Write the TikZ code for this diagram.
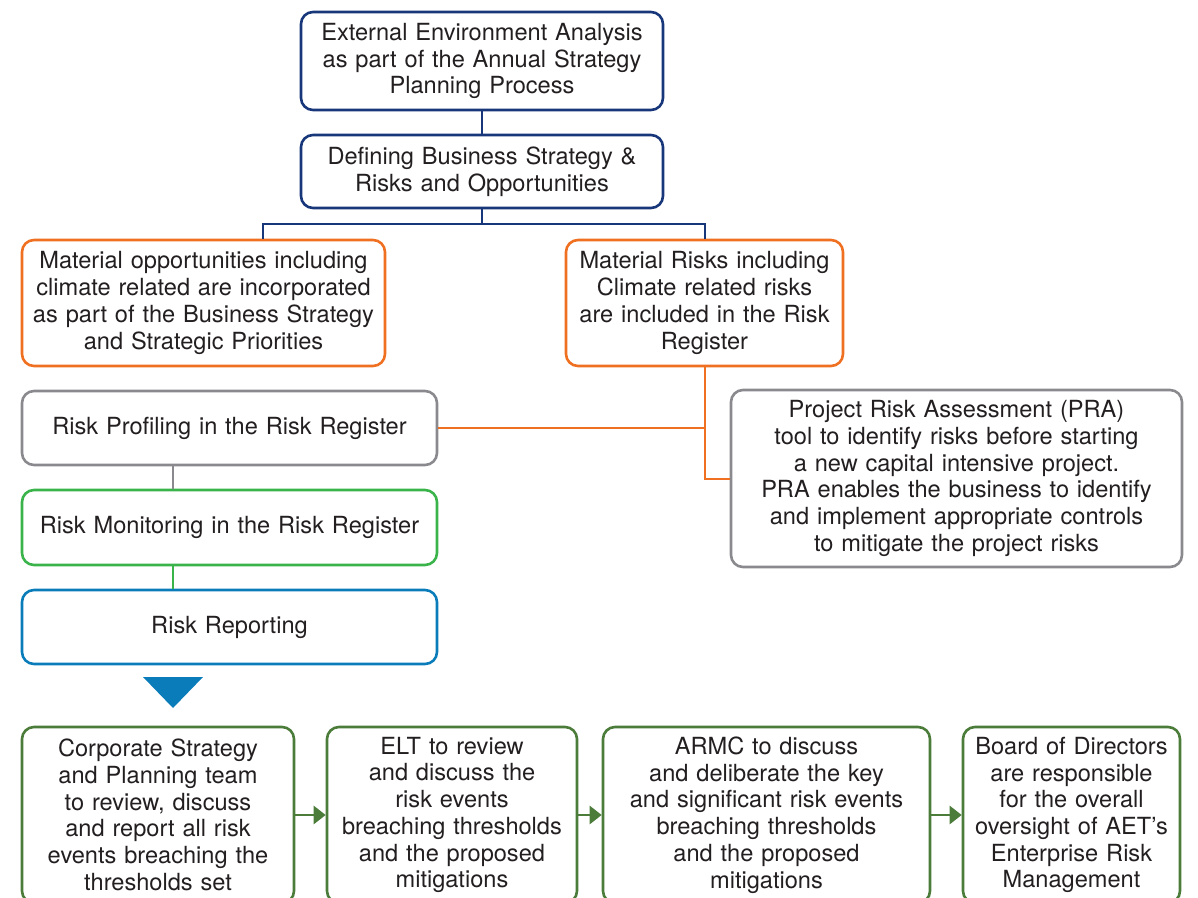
\documentclass[tikz,border=0pt]{standalone}
\usepackage{fontspec}
\setmainfont{TeX Gyre Heros}
\usetikzlibrary{arrows.meta}
\definecolor{navy}{RGB}{24,55,122}
\definecolor{orng}{RGB}{240,112,34}
\definecolor{gry}{RGB}{138,138,142}
\definecolor{lgreen}{RGB}{58,180,74}
\definecolor{rblue}{RGB}{10,124,186}
\definecolor{dgreen}{RGB}{75,124,58}
\definecolor{txt}{RGB}{35,31,32}
\tikzset{
  box/.style={draw=#1, line width=1.3pt, rounded corners=6pt, fill=white,
    align=center, inner sep=0pt, text=txt,
    font=\fontsize{11.8}{13.35}\selectfont},
  conn/.style={line width=1pt, draw=#1},
  garrow/.style={line width=1.3pt, draw=dgreen, -{Triangle[length=6pt,width=9pt,fill=dgreen]}}
}
\begin{document}
\begin{tikzpicture}[x=0.5pt,y=-0.5pt]
\useasboundingbox (0,0) rectangle (1198,898);
% top
\node[box=navy, minimum width=181pt, minimum height=49pt, text width=178pt] (ext) at (482,61)
  {External Environment Analysis\\as part of the Annual Strategy\\Planning Process};
\node[box=navy, minimum width=181pt, minimum height=36.5pt, text width=178pt] (def) at (482,171.5)
  {Defining Business Strategy \&\\Risks and Opportunities};
\node[box=orng, minimum width=181.5pt, minimum height=63pt, text width=180pt] (opp) at (203.5,303)
  {Material opportunities including\\climate related are incorporated\\as part of the Business Strategy\\and Strategic Priorities};
\node[box=orng, minimum width=138.5pt, minimum height=63pt, text width=137pt] (mrisk) at (704.5,303)
  {Material Risks including\\Climate related risks\\are included in the Risk\\Register};
\node[box=gry, minimum width=207.5pt, minimum height=37pt, text width=200pt] (prof) at (229.5,428)
  {Risk Profiling in the Risk Register};
\node[box=lgreen, minimum width=207.5pt, minimum height=37.5pt, text width=200pt] (mon) at (229.5,527.5)
  {Risk Monitoring in the Risk Register};
\node[box=rblue, minimum width=207.5pt, minimum height=37pt, text width=200pt] (rep) at (229.5,627)
  {Risk Reporting};
\node[box=gry, minimum width=225.5pt, minimum height=88.5pt, text width=222pt] (pra) at (956.5,478.5)
  {Project Risk Assessment (PRA)\\tool to identify risks before starting\\a new capital intensive project.\\PRA enables the business to identify\\and implement appropriate controls\\to mitigate the project risks};
% bottom row
\node[box=dgreen, minimum width=136pt, minimum height=88pt, text width=134pt] (ba) at (158,815)
  {Corporate Strategy\\and Planning team\\to review, discuss\\and report all risk\\events breaching the\\thresholds set};
\node[box=dgreen, minimum width=125pt, minimum height=88pt, text width=123pt] (bb) at (452,815)
  {ELT to review\\and discuss the\\risk events\\breaching thresholds\\and the proposed\\mitigations};
\node[box=dgreen, minimum width=163.5pt, minimum height=88pt, text width=161pt] (bc) at (766.5,815)
  {ARMC to discuss\\and deliberate the key\\and significant risk events\\breaching thresholds\\and the proposed\\mitigations};
\node[box=dgreen, minimum width=108.5pt, minimum height=88pt, text width=106pt] (bd) at (1071.5,815)
  {Board of Directors\\are responsible\\for the overall\\oversight of AET’s\\Enterprise Risk\\Management};
% connectors
\coordinate (fork) at (482,224);
\coordinate (lx) at (263,0);
\coordinate (sx) at (173,0);
\draw[conn=navy] (ext.south) -- (def.north);
\draw[conn=navy] (def.south) -- (fork);
\draw[conn=navy] (opp.north -| lx) |- (fork) -| (mrisk.north);
\draw[conn=orng] (mrisk.south) |- (pra.west);
\draw[conn=orng] (prof.east) -- (prof.east -| mrisk.south);
\draw[conn=gry] (prof.south -| sx) -- (mon.north -| sx);
\draw[conn=lgreen] (mon.south -| sx) -- (rep.north -| sx);
\fill[rblue] (143,677) -- (203,677) -- (173,708) -- cycle;
\draw[garrow] (ba.east) -- (bb.west);
\draw[garrow] (bb.east) -- (bc.west);
\draw[garrow] (bc.east) -- (bd.west);
\end{tikzpicture}
\end{document}
